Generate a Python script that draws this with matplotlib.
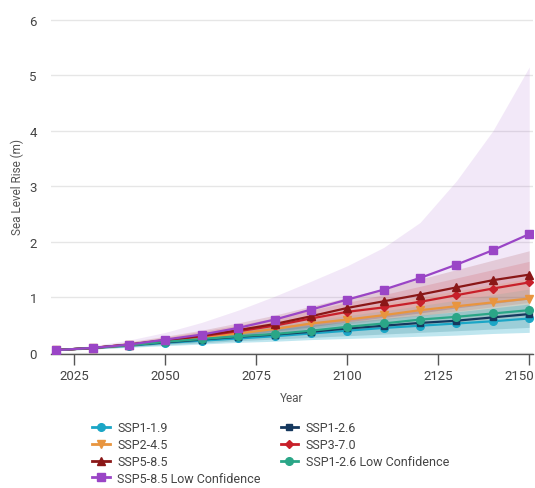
import matplotlib
matplotlib.use("Agg")
import matplotlib.pyplot as plt
from matplotlib.lines import Line2D
from matplotlib.transforms import ScaledTranslation

plt.rcParams['font.family'] = ['Roboto', 'DejaVu Sans']

years = [2020, 2030, 2040, 2050, 2060, 2070, 2080, 2090, 2100, 2110, 2120, 2130, 2140, 2150]

ssp119 = [0.05, 0.09, 0.13, 0.18, 0.22, 0.26, 0.30, 0.35, 0.40, 0.45, 0.49, 0.53, 0.57, 0.62]
ssp126 = [0.05, 0.09, 0.14, 0.19, 0.24, 0.29, 0.33, 0.38, 0.44, 0.49, 0.54, 0.58, 0.64, 0.70]
ssp245 = [0.05, 0.09, 0.14, 0.21, 0.28, 0.35, 0.43, 0.53, 0.60, 0.68, 0.77, 0.84, 0.91, 0.98]
ssp370 = [0.05, 0.09, 0.15, 0.22, 0.30, 0.39, 0.49, 0.62, 0.74, 0.82, 0.92, 1.04, 1.16, 1.27]
ssp585 = [0.05, 0.09, 0.15, 0.23, 0.31, 0.41, 0.52, 0.66, 0.81, 0.93, 1.05, 1.18, 1.31, 1.41]
ssp126_lc = [0.05, 0.09, 0.14, 0.20, 0.25, 0.30, 0.34, 0.40, 0.47, 0.53, 0.60, 0.65, 0.71, 0.77]
ssp585_lc = [0.05, 0.09, 0.15, 0.24, 0.33, 0.45, 0.60, 0.78, 0.96, 1.14, 1.35, 1.59, 1.85, 2.14]

# likely ranges (lower / upper)
ssp119_lo = [0.04, 0.07, 0.10, 0.13, 0.16, 0.19, 0.21, 0.24, 0.26, 0.28, 0.30, 0.32, 0.35, 0.37]
ssp119_hi = [0.06, 0.11, 0.17, 0.24, 0.31, 0.37, 0.43, 0.50, 0.56, 0.62, 0.68, 0.74, 0.81, 0.88]
ssp126_lo = [0.04, 0.07, 0.11, 0.15, 0.18, 0.22, 0.25, 0.28, 0.31, 0.34, 0.37, 0.40, 0.43, 0.46]
ssp126_hi = [0.06, 0.11, 0.18, 0.26, 0.33, 0.40, 0.47, 0.55, 0.62, 0.69, 0.76, 0.83, 0.91, 0.99]
ssp245_lo = [0.04, 0.07, 0.11, 0.16, 0.21, 0.26, 0.31, 0.36, 0.41, 0.46, 0.51, 0.56, 0.61, 0.66]
ssp245_hi = [0.06, 0.11, 0.19, 0.27, 0.36, 0.45, 0.56, 0.67, 0.78, 0.89, 1.01, 1.12, 1.23, 1.34]
ssp370_lo = [0.04, 0.08, 0.12, 0.17, 0.23, 0.29, 0.36, 0.44, 0.52, 0.60, 0.67, 0.75, 0.83, 0.91]
ssp370_hi = [0.06, 0.11, 0.19, 0.28, 0.39, 0.50, 0.63, 0.77, 0.91, 1.05, 1.20, 1.35, 1.50, 1.65]
ssp585_lo = [0.04, 0.08, 0.12, 0.18, 0.24, 0.31, 0.39, 0.47, 0.56, 0.64, 0.72, 0.81, 0.89, 0.97]
ssp585_hi = [0.06, 0.12, 0.20, 0.30, 0.41, 0.54, 0.68, 0.84, 1.00, 1.16, 1.33, 1.50, 1.67, 1.84]
ssp126_lc_lo = [0.04, 0.07, 0.11, 0.15, 0.18, 0.22, 0.25, 0.28, 0.31, 0.34, 0.37, 0.40, 0.43, 0.46]
ssp126_lc_hi = [0.06, 0.11, 0.18, 0.26, 0.34, 0.42, 0.50, 0.59, 0.67, 0.76, 0.85, 0.95, 1.05, 1.15]
ssp585_lc_lo = [0.04, 0.08, 0.12, 0.18, 0.24, 0.31, 0.39, 0.47, 0.56, 0.64, 0.72, 0.81, 0.89, 0.97]
ssp585_lc_hi = [0.07, 0.13, 0.23, 0.37, 0.55, 0.77, 1.02, 1.29, 1.57, 1.90, 2.35, 3.10, 4.00, 5.15]

labels = ["SSP1-1.9", "SSP1-2.6", "SSP2-4.5", "SSP3-7.0", "SSP5-8.5",
          "SSP1-2.6 Low Confidence", "SSP5-8.5 Low Confidence"]
colors = ["#1ba6c6", "#15385e", "#e8953f", "#c8202a", "#8a1717", "#2aa687", "#9a45c6"]
markers = ["o", "s", "v", "D", "^", "o", "s"]
msizes = [5.5, 5, 5.5, 4, 5.5, 5.5, 5.5]
medians = [ssp119, ssp126, ssp245, ssp370, ssp585, ssp126_lc, ssp585_lc]
lows = [ssp119_lo, ssp126_lo, ssp245_lo, ssp370_lo, ssp585_lo, ssp126_lc_lo, ssp585_lc_lo]
highs = [ssp119_hi, ssp126_hi, ssp245_hi, ssp370_hi, ssp585_hi, ssp126_lc_hi, ssp585_lc_hi]
band_alpha = [0.28, 0.12, 0.14, 0.14, 0.14, 0.10, 0.12]

fig = plt.figure(figsize=(5.35, 4.89), dpi=100)
ax = fig.add_axes([0.095, 0.274, 0.901, 0.689])

# shaded likely ranges, widest first
for i in [6, 4, 3, 2, 5, 1, 0]:
    ax.fill_between(years, lows[i], highs[i], color=colors[i], alpha=band_alpha[i],
                    linewidth=0, zorder=1)

draw_order = [0, 1, 5, 2, 3, 4, 6]
for i in draw_order:
    ax.plot(years, medians[i], color=colors[i], marker=markers[i], markersize=msizes[i],
            linewidth=1.6, zorder=3 + i)

ax.set_xlim(2018.5, 2151)
ax.set_ylim(-0.02, 6.05)
ax.set_xticks([2025, 2050, 2075, 2100, 2125, 2150])
ax.set_yticks([0, 1, 2, 3, 4, 5, 6])
ax.grid(axis='y', color='#e6e6e6', linewidth=1)
ax.set_axisbelow(True)
for s in ['top', 'right', 'left']:
    ax.spines[s].set_visible(False)
ax.spines['bottom'].set_color('#555555')
ax.spines['bottom'].set_linewidth(1)
ax.tick_params(axis='x', length=8, width=1, color='#555555', labelsize=9.5,
               labelcolor='#444444', pad=3)
ax.tick_params(axis='y', length=0, labelsize=9.5, labelcolor='#444444', pad=10)
ax.set_xlabel("Year", fontsize=8.5, color='#555555', labelpad=6)
ax.set_ylabel("Sea Level Rise (m)", fontsize=8.5, color='#555555', labelpad=4)

# keep the last year label inside the figure
last = ax.get_xticklabels()[-1]
last.set_transform(last.get_transform() + ScaledTranslation(-10 / 100, 0, fig.dpi_scale_trans))

# legend: two columns, filled row by row
handles = [Line2D([], [], color=colors[i], marker=markers[i], markersize=msizes[i],
                  linewidth=2) for i in range(7)]
order = [0, 2, 4, 6, 1, 3, 5]
fig.legend([handles[i] for i in order], [labels[i] for i in order],
           loc='upper left', bbox_to_anchor=(0.172, 0.136), ncol=2, frameon=False,
           fontsize=9, handlelength=1.4, handletextpad=0.6, columnspacing=1.6,
           labelspacing=0.3, borderaxespad=0, borderpad=0, labelcolor='#444444')

fig.savefig("out.png", dpi=100)
